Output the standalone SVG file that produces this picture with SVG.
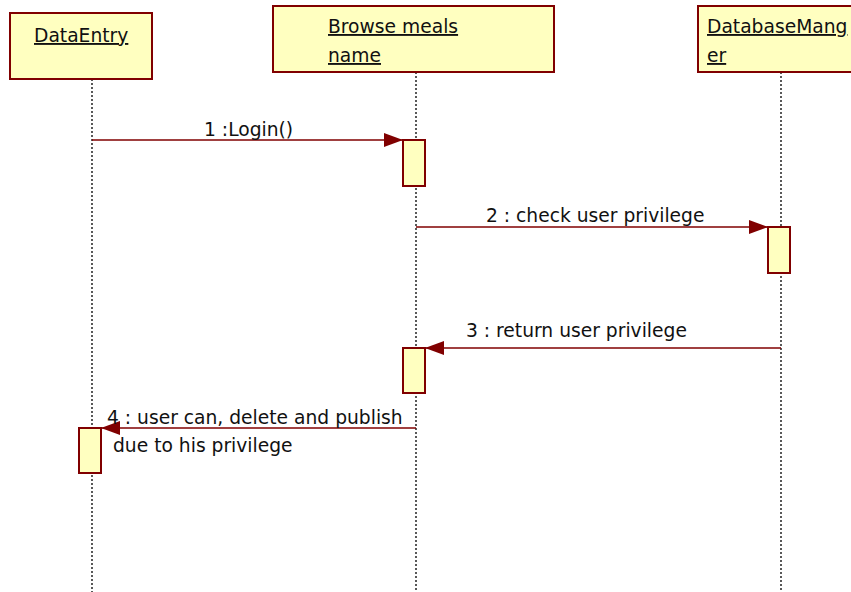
<svg xmlns="http://www.w3.org/2000/svg" width="851" height="592" viewBox="0 0 851 592">
<style>
.box{fill:#ffffc0;stroke:#800000;stroke-width:2}
.life{stroke:#000;stroke-width:1.3;stroke-dasharray:2,2}
.msg{stroke:#800000;stroke-width:1.6;fill:none}
text{font-family:"DejaVu Sans",Verdana,sans-serif;font-size:18.7px;fill:#111}
.u{text-decoration:underline}
</style>
<defs>
<marker id="ah" markerWidth="20" markerHeight="16" refX="19" refY="8" orient="auto" markerUnits="userSpaceOnUse">
<path d="M0,1 L19,8 L0,15 Z" fill="#800000"/>
</marker>
</defs>
<rect width="851" height="592" fill="#fff"/>
<g id="lifelines">
<line class="life" x1="92" y1="79" x2="92" y2="592"/>
<line class="life" x1="416" y1="72" x2="416" y2="592"/>
<line class="life" x1="781" y1="72" x2="781" y2="592"/>
</g>
<g id="DataEntry">
<rect class="box" x="10" y="13" width="142" height="66"/>
<text class="u" x="34" y="42">DataEntry</text>
</g>
<g id="BrowseMeals">
<rect class="box" x="273" y="6" width="281" height="66"/>
<text class="u" x="328" y="33">Browse meals</text>
<text class="u" x="328" y="62">name</text>
</g>
<g id="DatabaseManger">
<rect class="box" x="698" y="6" width="160" height="66"/>
<text class="u" x="707" y="33">DatabaseMang</text>
<text class="u" x="707" y="62">er</text>
</g>
<g id="activations">
<rect class="box" x="403" y="140" width="22" height="46"/>
<rect class="box" x="768" y="227" width="22" height="46"/>
<rect class="box" x="403" y="348" width="22" height="45"/>
<rect class="box" x="79" y="428" width="22" height="45"/>
</g>
<g id="connectors">
<line class="msg" x1="92" y1="140" x2="403" y2="140" marker-end="url(#ah)"/>
<line class="msg" x1="416" y1="227" x2="768" y2="227" marker-end="url(#ah)"/>
<line class="msg" x1="781" y1="348" x2="425" y2="348" marker-end="url(#ah)"/>
<line class="msg" x1="416" y1="428" x2="101" y2="428" marker-end="url(#ah)"/>
</g>
<g id="labels">
<text x="204" y="136">1 :Login()</text>
<text x="486" y="222">2 : check user privilege</text>
<text x="466" y="337">3 : return user privilege</text>
<text x="107" y="424">4 : user can, delete and publish</text>
<text x="113" y="452">due to his privilege</text>
</g>
</svg>
